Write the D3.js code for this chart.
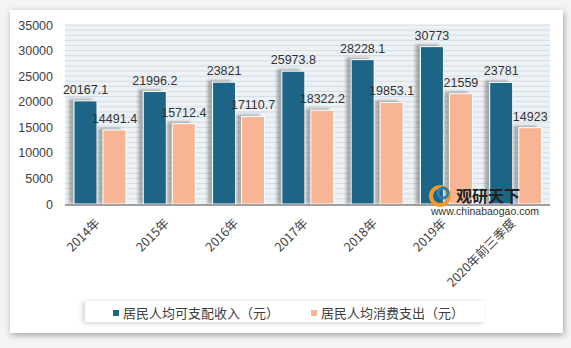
<!DOCTYPE html>
<html>
<head>
<meta charset="utf-8">
<script src="https://cdn.jsdelivr.net/npm/d3@7"></script>
<style>
  body { margin:0; background:#f2f2f2; font-family:"Noto Sans CJK SC","DejaVu Sans",sans-serif; }
</style>
</head>
<body>
<script>
// chart data
var categories = ["2014年","2015年","2016年","2017年","2018年","2019年","2020年前三季度"];
var income = [20167.1, 21996.2, 23821, 25973.8, 28228.1, 30773, 23781];
var spend = [14491.4, 15712.4, 17110.7, 18322.2, 19853.1, 21559, 14923];
var incomeLabels = ["20167.1","21996.2","23821","25973.8","28228.1","30773","23781"];
var spendLabels = ["14491.4","15712.4","17110.7","18322.2","19853.1","21559","14923"];
var seriesNames = ["居民人均可支配收入（元）","居民人均消费支出（元）"];
var yTicks = [0,5000,10000,15000,20000,25000,30000,35000];

var W = 571, H = 348;
var colBlue = "#1d6587", colOrange = "#f8b593";
// plot area (don't use "top" - it's window.top)
var pLeft = 65, pRight = 550, pTop = 25, pBottom = 204;

var svg = d3.select("body").append("svg").attr("width", W).attr("height", H);
var defs = svg.append("defs");
var f = defs.append("filter").attr("id","card").attr("x","-5%").attr("y","-5%").attr("width","110%").attr("height","110%");
f.append("feDropShadow").attr("dx",1).attr("dy",2).attr("stdDeviation",3).attr("flood-color","#000").attr("flood-opacity",0.35);
var f2 = defs.append("filter").attr("id","leg").attr("x","-10%").attr("y","-30%").attr("width","120%").attr("height","160%");
f2.append("feDropShadow").attr("dx",-2).attr("dy",1).attr("stdDeviation",2.5).attr("flood-color","#000").attr("flood-opacity",0.2);
var g2 = defs.append("filter").attr("id","soft").attr("x","-50%").attr("y","-50%").attr("width","200%").attr("height","200%");
g2.append("feGaussianBlur").attr("stdDeviation",1.5);

svg.append("rect").attr("width",W).attr("height",H).attr("fill","#f4f4f4");
svg.append("rect").attr("x",10).attr("y",10).attr("width",553).attr("height",323)
  .attr("fill","#fff").attr("filter","url(#card)");

var x = d3.scaleBand().domain(categories).range([pLeft, pRight]);
var y = d3.scaleLinear().domain([0, 35000]).range([pBottom, pTop]);

// plot background with stripes
svg.append("rect").attr("x",pLeft).attr("y",pTop).attr("width",pRight-pLeft).attr("height",pBottom-pTop).attr("fill","#edf2f6");
svg.append("g").selectAll("line").data(d3.range(1000, 35001, 1000)).enter().append("line")
  .attr("x1",pLeft).attr("x2",pRight).attr("y1",d=>y(d)).attr("y2",d=>y(d))
  .attr("stroke","#c9d2da").attr("stroke-width",0.7);

var yAxis = d3.axisLeft(y).tickValues(yTicks).tickFormat(d3.format("d")).tickSize(0).tickPadding(12);
var ya = svg.append("g").attr("transform","translate("+pLeft+",0)").call(yAxis);
ya.select(".domain").remove();
ya.selectAll("text").attr("font-size",12.5).attr("fill","#404040").attr("font-family","Liberation Sans, Arial, sans-serif");

var bw = 23;
var offB = 9, offO = 38;
var groups = categories.map((c,i)=>({c:c, inc:income[i], sp:spend[i], il:incomeLabels[i], sl:spendLabels[i]}));

function bars(key, off, color) {
  // shadow
  svg.append("g").selectAll("rect").data(groups).enter().append("rect")
    .attr("x", d=>x(d.c)+off-5).attr("y", d=>y(d[key])-2)
    .attr("width", bw).attr("height", d=>pBottom-y(d[key])+2)
    .attr("fill","#6f6f6f").attr("opacity",0.55).attr("filter","url(#soft)");
  svg.append("g").selectAll("rect").data(groups).enter().append("rect")
    .attr("x", d=>x(d.c)+off).attr("y", d=>y(d[key]))
    .attr("width", bw).attr("height", d=>pBottom-y(d[key]))
    .attr("fill",color).attr("stroke","#fff").attr("stroke-width",1);
}
bars("inc", offB, colBlue);
bars("sp", offO, colOrange);

// axis baseline
svg.append("line").attr("x1",pLeft).attr("x2",pRight).attr("y1",pBottom+1).attr("y2",pBottom+1)
  .attr("stroke","#a0a0a0").attr("stroke-width",2);

// value labels
function labels(key, lk, off) {
  svg.append("g").selectAll("text").data(groups).enter().append("text")
    .attr("x", d=>x(d.c)+off+bw/2).attr("y", d=>y(d[key])-7)
    .attr("text-anchor","middle").attr("font-size",12.5).attr("fill","#333")
    .attr("font-family","Liberation Sans, Arial, sans-serif")
    .text(d=>d[lk]);
}
labels("inc","il",offB);
labels("sp","sl",offO);

// watermark
var wm = svg.append("g");
wm.append("circle").attr("cx",440).attr("cy",196).attr("r",9).attr("fill","none").attr("stroke","#f39a2b").attr("stroke-width",4);
wm.append("circle").attr("cx",443).attr("cy",193).attr("r",5).attr("fill","none").attr("stroke","#2b7fb8").attr("stroke-width",3);
wm.append("text").attr("x",456).attr("y",202).attr("font-size",16).attr("font-weight","bold").attr("fill","#222").text("观研天下");
wm.append("text").attr("x",431).attr("y",215).attr("font-size",10.5).attr("fill","#333")
  .attr("font-family","Liberation Sans, Arial, sans-serif").text("www.chinabaogao.com");

// x labels
svg.append("g").selectAll("text").data(categories).enter().append("text")
  .attr("transform", d=>"translate("+(x(d)+x.bandwidth()/2+1)+","+(pBottom+20)+") rotate(-45)")
  .attr("text-anchor","end").attr("font-size",12.5).attr("fill","#404040")
  .text(d=>d);

// legend
var lg = svg.append("g");
lg.append("rect").attr("x",85).attr("y",301).attr("width",400).attr("height",21).attr("fill","#fff").attr("filter","url(#leg)");
var lx = [113, 311];
[colBlue, colOrange].forEach((c,i)=>{
  lg.append("rect").attr("x",lx[i]).attr("y",310).attr("width",6).attr("height",6).attr("fill",c);
  lg.append("text").attr("x",lx[i]+10).attr("y",318).attr("font-size",13).attr("fill","#404040").text(seriesNames[i]);
});
</script>
</body>
</html>
